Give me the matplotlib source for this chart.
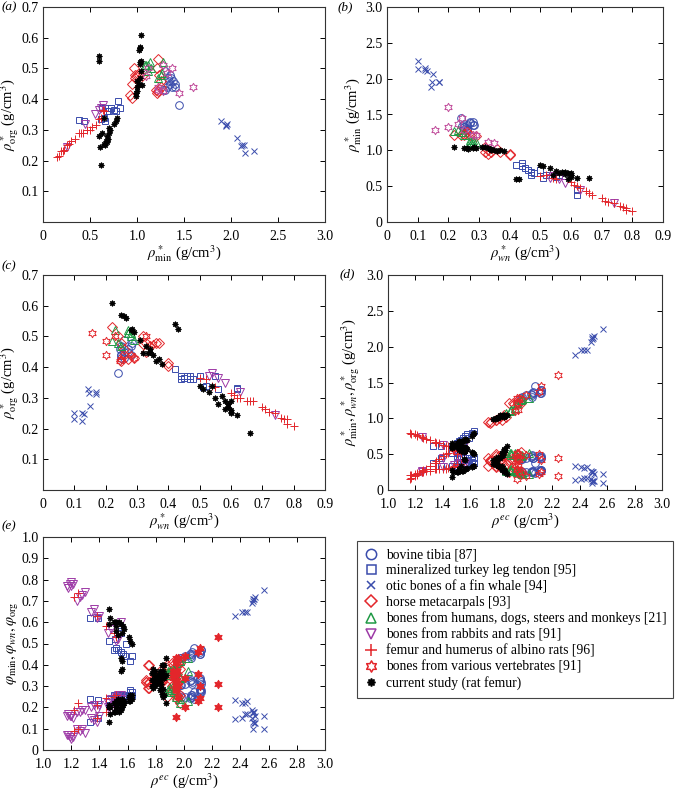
import numpy as np
import matplotlib
matplotlib.use("Agg")
import matplotlib.pyplot as plt
from matplotlib.path import Path
from matplotlib.lines import Line2D

plt.rcParams['font.family'] = ['Liberation Serif', 'DejaVu Serif']
plt.rcParams['mathtext.fontset'] = 'stix'
plt.rcParams['font.size'] = 10

# ---- data for panels (a)-(d): apparent densities (g/cm3) per sample ----
# bovine tibia [87]
tib_ec = [2.07, 1.98, 2.01, 2.06, 2.11, 2.12, 2.11, 2.115, 2.05, 2.05, 2.12, 1.97, 2.045, 2.06]
tib_min = [1.45, 1.30, 1.32, 1.35, 1.38, 1.40, 1.36, 1.35, 1.30, 1.33, 1.40, 1.28, 1.34, 1.37]
tib_wn = [0.24, 0.25, 0.25, 0.26, 0.27, 0.28, 0.28, 0.285, 0.26, 0.25, 0.27, 0.26, 0.245, 0.25]
tib_org = [0.38, 0.43, 0.44, 0.45, 0.46, 0.44, 0.47, 0.48, 0.49, 0.47, 0.45, 0.43, 0.46, 0.44]

# mineralized turkey leg tendon [95]
tur_ec = [1.33, 1.615, 1.63, 1.58, 1.55, 1.53, 1.50, 1.565, 1.59, 1.51, 1.55, 1.465, 1.55, 1.39, 1.52]
tur_min = [0.38, 0.80, 0.82, 0.78, 0.72, 0.70, 0.66, 0.75, 0.72, 0.65, 0.63, 0.62, 0.66, 0.44, 0.68]
tur_wn = [0.62, 0.42, 0.44, 0.44, 0.46, 0.47, 0.47, 0.45, 0.50, 0.52, 0.55, 0.51, 0.56, 0.62, 0.48]
tur_org = [0.333, 0.395, 0.37, 0.36, 0.37, 0.36, 0.37, 0.365, 0.37, 0.34, 0.37, 0.335, 0.33, 0.33, 0.36]

# otic bones of a fin whale [94]
wha_ec = [2.57, 2.49, 2.50, 2.495, 2.48, 2.41, 2.365, 2.45, 2.43, 2.49]
wha_min = [2.24, 2.14, 2.15, 2.12, 2.06, 1.95, 1.89, 1.96, 1.95, 2.11]
wha_wn = [0.10, 0.10, 0.125, 0.125, 0.15, 0.148, 0.145, 0.17, 0.17, 0.13]
wha_org = [0.23, 0.25, 0.225, 0.25, 0.272, 0.315, 0.33, 0.32, 0.313, 0.248]

# horse metacarpals [93]
hor_ec = [1.97, 1.95, 1.96, 1.97, 1.915, 1.92, 1.95, 1.79, 1.81, 1.79, 1.86, 1.73, 1.83, 1.745, 1.755, 1.845, 1.88]
hor_min = [1.22, 1.21, 1.23, 1.25, 1.22, 1.20, 1.25, 0.97, 1.00, 0.98, 1.02, 0.95, 0.98, 0.93, 0.95, 1.05, 1.21]
hor_wn = [0.22, 0.24, 0.25, 0.26, 0.27, 0.29, 0.26, 0.32, 0.33, 0.34, 0.36, 0.33, 0.37, 0.40, 0.40, 0.32, 0.25]
hor_org = [0.53, 0.50, 0.48, 0.46, 0.425, 0.43, 0.44, 0.50, 0.48, 0.47, 0.48, 0.45, 0.48, 0.415, 0.405, 0.475, 0.42]

# bones from humans, dogs, steers and monkeys [21]
hum_ec = [2.03, 1.97, 1.90, 1.89, 1.86, 1.93, 1.90, 1.975, 1.93, 1.94]
hum_min = [1.28, 1.25, 1.12, 1.10, 1.08, 1.15, 1.12, 1.27, 1.14, 1.22]
hum_wn = [0.23, 0.24, 0.27, 0.28, 0.27, 0.28, 0.29, 0.22, 0.27, 0.25]
hum_org = [0.52, 0.48, 0.51, 0.51, 0.51, 0.50, 0.49, 0.485, 0.52, 0.47]

# bones from rabbits and rats [91]
rab_ec = [1.52, 1.56, 1.525, 1.48, 1.40, 1.245]
rab_min = [0.62, 0.64, 0.60, 0.55, 0.45, 0.26]
rab_wn = [0.53, 0.54, 0.56, 0.58, 0.63, 0.74]
rab_org = [0.37, 0.38, 0.365, 0.35, 0.32, 0.245]

# femur and humerus of albino rats [96]
rat_ec = [1.16, 1.165, 1.20, 1.21, 1.215, 1.25, 1.255, 1.275, 1.31, 1.34,
          1.35, 1.37, 1.40, 1.42, 1.44, 1.475, 1.485, 1.50, 1.53, 1.505]
rat_min = [0.15, 0.17, 0.19, 0.21, 0.22, 0.26, 0.28, 0.30, 0.34, 0.38,
           0.40, 0.43, 0.47, 0.50, 0.52, 0.56, 0.60, 0.62, 0.65, 0.64]
rat_wn = [0.80, 0.78, 0.78, 0.77, 0.76, 0.74, 0.72, 0.71, 0.70, 0.67,
          0.66, 0.65, 0.63, 0.62, 0.61, 0.60, 0.55, 0.54, 0.52, 0.50]
rat_org = [0.21, 0.215, 0.23, 0.23, 0.235, 0.25, 0.255, 0.265, 0.27, 0.29,
           0.29, 0.29, 0.30, 0.30, 0.31, 0.315, 0.335, 0.34, 0.36, 0.365]

# bones from various vertebrates [91]
ver_ec = [2.24, 1.945, 2.005, 2.10, 2.115, 1.94, 1.95, 1.925, 1.955, 1.94]
ver_min = [1.60, 1.28, 1.32, 1.37, 1.45, 1.22, 1.12, 1.10, 1.28, 1.22]
ver_wn = [0.20, 0.155, 0.20, 0.23, 0.245, 0.29, 0.33, 0.35, 0.25, 0.28]
ver_org = [0.44, 0.51, 0.485, 0.50, 0.42, 0.43, 0.50, 0.475, 0.425, 0.44]

# current study (rat femur)
cur_ec = [1.87, 1.85, 1.855, 1.845, 1.83, 1.835, 1.85, 1.84, 1.83, 1.80, 1.80, 1.79, 1.77, 1.78, 1.81, 1.795, 1.815,
          1.56, 1.555,
          1.63, 1.62, 1.61, 1.56, 1.575, 1.57, 1.55, 1.54, 1.51, 1.52, 1.52, 1.475, 1.465, 1.53, 1.515, 1.505, 1.47]
cur_min = [1.04, 1.03, 1.03, 1.02, 1.03, 1.03, 1.04, 1.04, 1.03, 1.02, 1.00, 1.00, 0.99, 0.99, 1.02, 1.00, 1.05,
           0.60, 0.60,
           0.79, 0.78, 0.76, 0.71, 0.70, 0.70, 0.69, 0.68, 0.66, 0.63, 0.68, 0.61, 0.62, 0.65, 0.67, 0.65, 0.60]
cur_wn = [0.22, 0.25, 0.26, 0.265, 0.28, 0.29, 0.285, 0.31, 0.33, 0.335, 0.34, 0.35, 0.36, 0.38, 0.34, 0.37, 0.32,
          0.42, 0.43,
          0.50, 0.51, 0.53, 0.55, 0.57, 0.58, 0.59, 0.60, 0.60, 0.60, 0.56, 0.62, 0.66, 0.54, 0.58, 0.60, 0.59]
cur_org = [0.61, 0.57, 0.565, 0.56, 0.52, 0.515, 0.525, 0.49, 0.47, 0.445, 0.46, 0.44, 0.42, 0.41, 0.45, 0.425, 0.445,
           0.54, 0.525,
           0.34, 0.33, 0.32, 0.30, 0.305, 0.29, 0.27, 0.26, 0.25, 0.29, 0.28, 0.245, 0.185, 0.34, 0.265, 0.255, 0.28]

# ---- data for panel (e): volume fractions ----
e_tib_ec = tib_ec
e_tib_min = [0.48, 0.43, 0.44, 0.45, 0.46, 0.47, 0.45, 0.45, 0.43, 0.44, 0.47, 0.43, 0.45, 0.46]
e_tib_wn = [0.24, 0.25, 0.25, 0.26, 0.27, 0.28, 0.28, 0.285, 0.26, 0.25, 0.27, 0.26, 0.245, 0.25]
e_tib_org = [0.27, 0.305, 0.31, 0.32, 0.33, 0.31, 0.33, 0.34, 0.35, 0.33, 0.32, 0.305, 0.325, 0.31]

e_tur_ec = tur_ec
e_tur_min = [0.13, 0.27, 0.27, 0.26, 0.24, 0.23, 0.22, 0.25, 0.24, 0.22, 0.21, 0.21, 0.22, 0.15, 0.23]
e_tur_wn = [0.62, 0.42, 0.44, 0.44, 0.46, 0.47, 0.47, 0.45, 0.50, 0.52, 0.55, 0.51, 0.56, 0.62, 0.48]
e_tur_org = [0.24, 0.28, 0.26, 0.255, 0.26, 0.255, 0.26, 0.26, 0.26, 0.24, 0.26, 0.24, 0.235, 0.235, 0.255]

e_wha_ec = wha_ec
e_wha_min = [0.75, 0.71, 0.72, 0.71, 0.69, 0.65, 0.63, 0.65, 0.65, 0.70]
e_wha_wn = [0.10, 0.10, 0.125, 0.125, 0.15, 0.148, 0.145, 0.17, 0.17, 0.13]
e_wha_org = [0.16, 0.18, 0.16, 0.18, 0.19, 0.22, 0.235, 0.23, 0.22, 0.175]

e_hor_ec = hor_ec
e_hor_min = [0.41, 0.40, 0.41, 0.42, 0.41, 0.40, 0.42, 0.32, 0.33, 0.33, 0.34, 0.32, 0.33, 0.31, 0.32, 0.35, 0.40]
e_hor_wn = [0.22, 0.24, 0.25, 0.26, 0.27, 0.29, 0.26, 0.32, 0.33, 0.34, 0.36, 0.33, 0.37, 0.40, 0.40, 0.32, 0.25]
e_hor_org = [0.38, 0.355, 0.34, 0.33, 0.30, 0.305, 0.31, 0.355, 0.34, 0.33, 0.34, 0.32, 0.34, 0.29, 0.29, 0.34, 0.30]

e_hum_ec = hum_ec
e_hum_min = [0.43, 0.42, 0.37, 0.37, 0.36, 0.38, 0.37, 0.42, 0.38, 0.41]
e_hum_wn = [0.23, 0.24, 0.27, 0.28, 0.27, 0.28, 0.29, 0.22, 0.27, 0.25]
e_hum_org = [0.37, 0.34, 0.36, 0.36, 0.36, 0.355, 0.35, 0.345, 0.37, 0.33]

e_rab_ec = [1.17, 1.18, 1.19, 1.20, 1.21, 1.20, 1.24, 1.26, 1.28, 1.30, 1.34, 1.36, 1.38, 1.40, 1.46, 1.48, 1.52, 1.53, 1.55]
e_rab_min = [0.07, 0.07, 0.06, 0.05, 0.06, 0.07, 0.10, 0.09, 0.10, 0.08, 0.15, 0.14, 0.13, 0.16, 0.20, 0.19, 0.23, 0.22, 0.24]
e_rab_wn = [0.77, 0.76, 0.78, 0.79, 0.78, 0.77, 0.70, 0.72, 0.73, 0.74, 0.65, 0.66, 0.62, 0.63, 0.55, 0.57, 0.51, 0.52, 0.60]
e_rab_org = [0.16, 0.17, 0.16, 0.16, 0.15, 0.16, 0.18, 0.18, 0.19, 0.19, 0.20, 0.21, 0.19, 0.21, 0.22, 0.24, 0.25, 0.26, 0.26]

e_rat_ec = [1.25, 1.45, 1.50, 1.38, 1.52, 1.22]
e_rat_min = [0.10, 0.18, 0.21, 0.15, 0.20, 0.09]
e_rat_wn = [0.735, 0.58, 0.55, 0.63, 0.53, 0.72]
e_rat_org = [0.22, 0.245, 0.25, 0.21, 0.26, 0.19]

e_ver_ec = ver_ec
e_ver_min = [0.53, 0.43, 0.44, 0.46, 0.48, 0.41, 0.37, 0.37, 0.43, 0.41]
e_ver_wn = [0.20, 0.155, 0.20, 0.23, 0.245, 0.29, 0.33, 0.35, 0.25, 0.28]
e_ver_org = [0.31, 0.36, 0.34, 0.355, 0.30, 0.305, 0.355, 0.34, 0.30, 0.31]

e_cur_ec = cur_ec
e_cur_min = [0.35, 0.34, 0.34, 0.34, 0.34, 0.34, 0.35, 0.35, 0.34, 0.34, 0.33, 0.33, 0.33, 0.33, 0.34, 0.33, 0.35,
             0.20, 0.20,
             0.26, 0.26, 0.25, 0.24, 0.23, 0.23, 0.23, 0.23, 0.22, 0.21, 0.23, 0.20, 0.21, 0.22, 0.22, 0.22, 0.20]
e_cur_wn = cur_wn
e_cur_org = [0.43, 0.40, 0.40, 0.40, 0.37, 0.365, 0.37, 0.35, 0.33, 0.315, 0.33, 0.31, 0.30, 0.29, 0.32, 0.30, 0.315,
             0.38, 0.37,
             0.24, 0.23, 0.23, 0.21, 0.22, 0.21, 0.19, 0.18, 0.18, 0.21, 0.20, 0.17, 0.13, 0.24, 0.19, 0.18, 0.20]

legend_labels = ['bovine tibia [87]', 'mineralized turkey leg tendon [95]', 'otic bones of a fin whale [94]',
                 'horse metacarpals [93]', 'bones from humans, dogs, steers and monkeys [21]',
                 'bones from rabbits and rats [91]', 'femur and humerus of albino rats [96]',
                 'bones from various vertebrates [91]', 'current study (rat femur)']

# ---- marker styles ----
BLUE, RED, GREEN, PURPLE, PINK = '#3a4cac', '#e3262b', '#1f9a45', '#9d3aa6', '#c04a9a'

ang = np.pi / 2 + np.arange(12) * np.pi / 6
rad = np.where(np.arange(12) % 2 == 0, 1.0, 1 / np.sqrt(3))
hv = np.column_stack([rad * np.cos(ang), rad * np.sin(ang)])
hexagram = Path(np.vstack([hv, hv[:1]]), closed=True)

styles = [
    dict(marker='o', color=BLUE, ms=5.5, fill=False),
    dict(marker='s', color=BLUE, ms=4.8, fill=False),
    dict(marker='x', color=BLUE, ms=4.0, fill=False),
    dict(marker='D', color=RED, ms=4.8, fill=False),
    dict(marker='^', color=GREEN, ms=5.5, fill=False),
    dict(marker='v', color=PURPLE, ms=5.5, fill=False),
    dict(marker='+', color=RED, ms=6.0, fill=False),
    dict(marker=hexagram, color=RED, ms=6.0, fill=False),
    dict(marker=(8, 1, 0), color='k', ms=4.3, fill=True),
]

groups = [
    (tib_ec, tib_min, tib_wn, tib_org),
    (tur_ec, tur_min, tur_wn, tur_org),
    (wha_ec, wha_min, wha_wn, wha_org),
    (hor_ec, hor_min, hor_wn, hor_org),
    (hum_ec, hum_min, hum_wn, hum_org),
    (rab_ec, rab_min, rab_wn, rab_org),
    (rat_ec, rat_min, rat_wn, rat_org),
    (ver_ec, ver_min, ver_wn, ver_org),
    (cur_ec, cur_min, cur_wn, cur_org),
]
groups_e = [
    (e_tib_ec, e_tib_min, e_tib_wn, e_tib_org),
    (e_tur_ec, e_tur_min, e_tur_wn, e_tur_org),
    (e_wha_ec, e_wha_min, e_wha_wn, e_wha_org),
    (e_hor_ec, e_hor_min, e_hor_wn, e_hor_org),
    (e_hum_ec, e_hum_min, e_hum_wn, e_hum_org),
    (e_rab_ec, e_rab_min, e_rab_wn, e_rab_org),
    (e_rat_ec, e_rat_min, e_rat_wn, e_rat_org),
    (e_ver_ec, e_ver_min, e_ver_wn, e_ver_org),
    (e_cur_ec, e_cur_min, e_cur_wn, e_cur_org),
]


def draw(ax, x, y, st, color=None, fill=None):
    c = color or st['color']
    f = st['fill'] if fill is None else fill
    ax.plot(x, y, ls='none', marker=st['marker'], ms=st['ms'], mec=c,
            mfc=c if f else 'none', mew=0.7)


def fmt(v):
    return '0' if abs(v) < 1e-9 else f'{v:.1f}'


fig = plt.figure(figsize=(6.75, 7.89), dpi=100)
W, H = 675.0, 789.0


def add_axes(l, t, r, b):
    return fig.add_axes([l / W, 1 - b / H, (r - l) / W, (b - t) / H])


def setup(ax, xlim, xt, ylim, yt, xlabel, ylabel, ylab_x, y0=True):
    ax.set_xlim(*xlim)
    ax.set_ylim(*ylim)
    ax.set_xticks(xt)
    ax.set_xticklabels([fmt(v) for v in xt])
    ax.set_yticks(yt)
    ax.set_yticklabels([fmt(v) if (y0 or v > 0) else '' for v in yt])
    ax.tick_params(direction='in', top=True, right=True, length=3.5, width=0.7,
                   labelsize=10, pad=3)
    ax.tick_params(axis='x', pad=5.5)
    for s in ax.spines.values():
        s.set_linewidth(0.8)
        s.set_color('#333333')
    ax.set_xlabel(xlabel, fontsize=10.5, labelpad=0.5)
    ax.set_ylabel(ylabel, fontsize=10.5)
    # put the y label centre at a fixed pixel column
    l = ax.get_position().x0 * W
    w = ax.get_position().width * W
    ax.yaxis.set_label_coords((ylab_x - l) / w, 0.5)
    ax.yaxis.label.set_va('center')


ax_a = add_axes(43, 7, 325, 222)
ax_b = add_axes(387, 7, 663, 222)
ax_c = add_axes(43, 275, 325, 490)
ax_d = add_axes(388, 275, 662, 490)
ax_e = add_axes(43, 537, 325, 750)

for i, (ec, mn, wn, og) in enumerate(groups):
    st = styles[i]
    col_ab = PINK if i == 7 else None
    draw(ax_a, mn, og, st, color=col_ab)
    draw(ax_b, wn, mn, st, color=col_ab)
    draw(ax_c, wn, og, st)
    for yy in (mn, wn, og):
        draw(ax_d, ec, yy, st)

for i, (ec, mn, wn, og) in enumerate(groups_e):
    st = styles[i]
    for yy in (mn, wn, og):
        draw(ax_e, ec, yy, st, fill=True if i == 7 else None)

unit = ' (g/cm$^3$)'
setup(ax_a, (0, 3.0), np.arange(0, 3.01, 0.5), (0, 0.7), np.arange(0, 0.71, 0.1),
      r'$\rho^*_{\mathrm{min}}$' + unit, r'$\rho^*_{\mathrm{org}}$' + unit, 10, y0=False)
setup(ax_b, (0, 0.9), np.arange(0, 0.91, 0.1), (0, 3.0), np.arange(0, 3.01, 0.5),
      r'$\rho^*_{wn}$' + unit, r'$\rho^*_{\mathrm{min}}$' + unit, 354)
setup(ax_c, (0, 0.9), np.arange(0, 0.91, 0.1), (0, 0.7), np.arange(0, 0.71, 0.1),
      r'$\rho^*_{wn}$' + unit, r'$\rho^*_{\mathrm{org}}$' + unit, 10, y0=False)
setup(ax_d, (1.0, 3.0), np.arange(1.0, 3.01, 0.2), (0, 3.0), np.arange(0, 3.01, 0.5),
      r'$\rho^{ec}$' + unit,
      r'$\rho^*_{\mathrm{min}}, \rho^*_{wn}, \rho^*_{\mathrm{org}}$' + unit, 351)
setup(ax_e, (1.0, 3.0), np.arange(1.0, 3.01, 0.2), (0, 1.0), np.arange(0, 1.01, 0.1),
      r'$\rho^{ec}$' + unit,
      r'$\varphi_{\mathrm{min}}, \varphi_{wn}, \varphi_{\mathrm{org}}$', 12)

for lab, (px, py) in zip('abcde', [(2, 7), (338, 7), (2, 266), (340, 274), (2, 526)]):
    fig.text(px / W, 1 - py / H, f'({lab})', fontsize=9.5, style='italic', va='center', ha='left')

handles = [Line2D([], [], ls='none', marker=st['marker'], ms=st['ms'] * 1.35, mec=st['color'],
                  mfc=st['color'] if st['fill'] else 'none', mew=1.1) for st in styles]
leg = fig.legend(handles, legend_labels, loc='upper left',
                 bbox_to_anchor=(357 / W, 1 - 541 / H, 316 / W, 0.0), mode='expand',
                 fontsize=9.8, frameon=True, fancybox=False, edgecolor='#444444',
                 handlelength=1.0, handletextpad=0.6, labelspacing=0.2, borderpad=0.55,
                 borderaxespad=0.0, framealpha=1)
leg.get_frame().set_linewidth(0.8)

fig.savefig('out.png', dpi=100)
